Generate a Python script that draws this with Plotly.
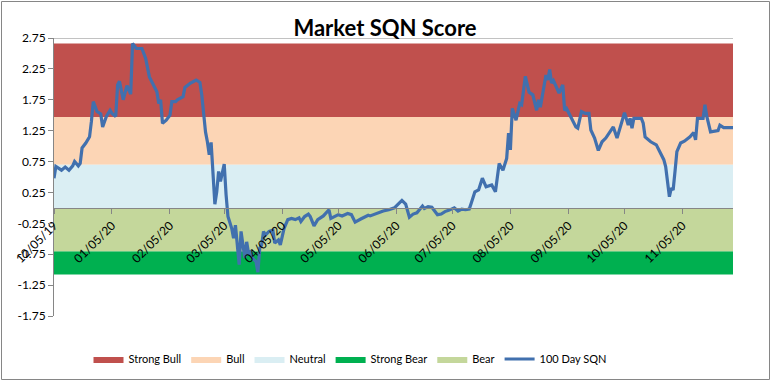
import plotly.graph_objects as go

# ---------------- data ----------------
dates = [
    "2019-12-05", "2019-12-06", "2019-12-09", "2019-12-11", "2019-12-13", "2019-12-15",
    "2019-12-16", "2019-12-18", "2019-12-19", "2019-12-20", "2019-12-22", "2019-12-24",
    "2019-12-25", "2019-12-26", "2019-12-28", "2019-12-30", "2019-12-31",
    "2020-01-02", "2020-01-04", "2020-01-05", "2020-01-07", "2020-01-08", "2020-01-09",
    "2020-01-11", "2020-01-13", "2020-01-15", "2020-01-16", "2020-01-18", "2020-01-21",
    "2020-01-23", "2020-01-25", "2020-01-27", "2020-01-29", "2020-01-30", "2020-01-31",
    "2020-02-01", "2020-02-03", "2020-02-05", "2020-02-06", "2020-02-08", "2020-02-09",
    "2020-02-12", "2020-02-13", "2020-02-16", "2020-02-19", "2020-02-21", "2020-02-22",
    "2020-02-23", "2020-02-24", "2020-02-25", "2020-02-26", "2020-02-27", "2020-02-28",
    "2020-02-29", "2020-03-01", "2020-03-02", "2020-03-03", "2020-03-05", "2020-03-06",
    "2020-03-07", "2020-03-09", "2020-03-10", "2020-03-11", "2020-03-12", "2020-03-13",
    "2020-03-14", "2020-03-15", "2020-03-16", "2020-03-17", "2020-03-18", "2020-03-19",
    "2020-03-20", "2020-03-22", "2020-03-23", "2020-03-24", "2020-03-25", "2020-03-26",
    "2020-03-27", "2020-03-29", "2020-03-31", "2020-04-01", "2020-04-03", "2020-04-04",
    "2020-04-06", "2020-04-08", "2020-04-10", "2020-04-12", "2020-04-14", "2020-04-15",
    "2020-04-17", "2020-04-19", "2020-04-20", "2020-04-22", "2020-04-24", "2020-04-27",
    "2020-04-30", "2020-05-01", "2020-05-03", "2020-05-05", "2020-05-07", "2020-05-10",
    "2020-05-12", "2020-05-14", "2020-05-17", "2020-05-19", "2020-05-21", "2020-05-22",
    "2020-05-25", "2020-05-29", "2020-06-01", "2020-06-04", "2020-06-06", "2020-06-08",
    "2020-06-10", "2020-06-12", "2020-06-14", "2020-06-16", "2020-06-19", "2020-06-20",
    "2020-06-22", "2020-06-24", "2020-06-25", "2020-06-27", "2020-06-29", "2020-07-01",
    "2020-07-03", "2020-07-06", "2020-07-08", "2020-07-10", "2020-07-12", "2020-07-14",
    "2020-07-15", "2020-07-17", "2020-07-19", "2020-07-21", "2020-07-23", "2020-07-26",
    "2020-07-28", "2020-07-29", "2020-07-30", "2020-08-01", "2020-08-03", "2020-08-04",
    "2020-08-05", "2020-08-06", "2020-08-08", "2020-08-10", "2020-08-11", "2020-08-13",
    "2020-08-15", "2020-08-17", "2020-08-19", "2020-08-20", "2020-08-21", "2020-08-24",
    "2020-08-25", "2020-08-26", "2020-08-27", "2020-08-28", "2020-08-31", "2020-09-02",
    "2020-09-03", "2020-09-04", "2020-09-06", "2020-09-09", "2020-09-10", "2020-09-12",
    "2020-09-14", "2020-09-16", "2020-09-17", "2020-09-19", "2020-09-21", "2020-09-23",
    "2020-09-25", "2020-09-29", "2020-10-01", "2020-10-05", "2020-10-07", "2020-10-08",
    "2020-10-09", "2020-10-10", "2020-10-14", "2020-10-15", "2020-10-16", "2020-10-19",
    "2020-10-22", "2020-10-24", "2020-10-26", "2020-10-27", "2020-10-28", "2020-10-29",
    "2020-10-30", "2020-10-31", "2020-11-01", "2020-11-02", "2020-11-04", "2020-11-06",
    "2020-11-09", "2020-11-11", "2020-11-12", "2020-11-13", "2020-11-16", "2020-11-17",
    "2020-11-18", "2020-11-20", "2020-11-24", "2020-11-25", "2020-11-27", "2020-12-02",
]

sqn = [
    0.48, 0.67, 0.61, 0.66, 0.61, 0.68,
    0.75, 0.68, 0.72, 0.97, 1.05, 1.15,
    1.40, 1.72, 1.56, 1.52, 1.31,
    1.48, 1.58, 1.53, 1.48, 1.99, 2.05,
    1.75, 1.98, 1.84, 2.66, 2.58, 2.58,
    2.42, 2.12, 1.99, 1.88, 1.69, 1.75,
    1.37, 1.42, 1.50, 1.72, 1.72, 1.75,
    1.80, 1.95, 2.02, 2.07, 2.03, 1.83,
    1.53, 1.23, 1.07, 0.86, 1.06, 0.53,
    0.06, 0.26, 0.59, 0.43, 0.71, 0.21,
    -0.14, -0.33, -0.49, -0.28, -0.65, -0.92,
    -0.38, -0.65, -0.81, -0.55, -0.73, -0.71,
    -0.81, -0.87, -1.04, -0.65, -0.60, -0.38,
    -0.44, -0.38, -0.36, -0.57, -0.52, -0.60,
    -0.33, -0.19, -0.17, -0.19, -0.16, -0.22,
    -0.14, -0.10, -0.14, -0.29, -0.19, -0.13,
    -0.03, -0.17, -0.14, -0.11, -0.13, -0.09,
    -0.11, -0.23, -0.18, -0.15, -0.12, -0.13,
    -0.09, -0.05, -0.03, 0.00, 0.06, 0.12,
    0.06, -0.15, -0.10, -0.08, 0.03, -0.01,
    0.02, 0.01, -0.03, -0.11, -0.10, -0.06,
    -0.04, 0.00, -0.05, -0.02, -0.03, -0.02,
    0.07, 0.26, 0.29, 0.48, 0.34, 0.37,
    0.26, 0.48, 0.72, 0.61, 0.80, 1.21,
    0.94, 1.61, 1.42, 1.69, 1.67, 2.13,
    1.87, 1.83, 1.58, 1.75, 1.63, 2.15,
    2.07, 2.24, 2.02, 2.06, 1.86, 1.99,
    1.58, 1.61, 1.48, 1.31, 1.29, 1.56,
    1.53, 1.53, 1.26, 1.13, 0.93, 1.07,
    1.13, 1.31, 1.13, 1.54, 1.34, 1.45,
    1.29, 1.45, 1.45, 1.37, 1.15, 1.07,
    1.02, 0.91, 0.78, 0.67, 0.43, 0.18,
    0.32, 0.29, 0.59, 0.91, 1.05, 1.08,
    1.15, 1.22, 1.10, 1.45, 1.45, 1.67,
    1.48, 1.23, 1.25, 1.34, 1.30, 1.30,
]

band_names = ["Strong Bull", "Bull", "Neutral", "Strong Bear", "Bear"]
band_top = [2.66, 1.47, 0.70, -0.70, 0.00]
band_bottom = [1.47, 0.70, 0.00, -1.08, -0.70]
band_colors = ["#C0504D", "#FCD5B5", "#DAEEF3", "#00B050", "#C4D79B"]

line_name = "100 Day SQN"

y_ticks = [2.75, 2.25, 1.75, 1.25, 0.75, 0.25, -0.25, -0.75, -1.25, -1.75]
x_tick_dates = ["2019-12-05", "2020-01-05", "2020-02-05", "2020-03-05", "2020-04-05",
                "2020-05-05", "2020-06-05", "2020-07-05", "2020-08-05", "2020-09-05",
                "2020-10-05", "2020-11-05"]
x_tick_labels = ["12/05/19", "01/05/20", "02/05/20", "03/05/20", "04/05/20", "05/05/20",
                 "06/05/20", "07/05/20", "08/05/20", "09/05/20", "10/05/20", "11/05/20"]

title_text = "Market SQN Score"

# ---------------- figure ----------------
FONT = "Lato, 'Open Sans', sans-serif"
GREY = "#868686"
y_min, y_max = -1.75, 2.75

fig = go.Figure()

x0, x1 = dates[0], dates[-1]
for name, top, bot, col in zip(band_names, band_top, band_bottom, band_colors):
    fig.add_trace(go.Scatter(
        x=[x0, x1, x1, x0, x0], y=[top, top, bot, bot, top],
        fill="toself", fillcolor=col, mode="lines",
        line=dict(width=0, color=col), name=name, hoverinfo="skip",
    ))

fig.add_trace(go.Scatter(
    x=dates, y=sqn, mode="lines", name=line_name,
    line=dict(color="#4170AE", width=3.2),
))

fig.update_layout(
    width=772, height=382,
    margin=dict(l=54, r=39, t=38, b=66),
    paper_bgcolor="white", plot_bgcolor="white",
    font=dict(family=FONT, size=12, color="#000000"),
    title=dict(text="<b>" + title_text + "</b>", x=385 / 772, xanchor="center",
               y=1 - 28 / 382, yanchor="middle",
               font=dict(family=FONT, size=22, color="#000000")),
    showlegend=True,
    legend=dict(orientation="h", xref="container", yref="container",
                x=350 / 772, xanchor="center", y=1 - 359 / 382, yanchor="middle",
                font=dict(family=FONT, size=11, color="#000000"),
                traceorder="normal", itemwidth=30, bgcolor="rgba(0,0,0,0)"),
    xaxis=dict(
        type="date", range=[x0, x1],
        anchor="free", position=(0 - y_min) / (y_max - y_min),
        showline=True, linecolor=GREY, linewidth=1,
        ticks="outside", ticklen=5, tickcolor=GREY,
        tickvals=x_tick_dates, ticktext=x_tick_labels, tickangle=-45,
        tickfont=dict(family=FONT, size=12, color="#000000"),
        showgrid=False, zeroline=False, automargin=False, layer="above traces",
    ),
    yaxis=dict(
        range=[y_min, y_max], domain=[0, 1],
        showline=True, linecolor=GREY, linewidth=1,
        ticks="outside", ticklen=5, tickcolor=GREY,
        tickvals=y_ticks, ticktext=[f"{v:.2f}" for v in y_ticks],
        tickfont=dict(family=FONT, size=12, color="#000000"),
        showgrid=False, zeroline=False, automargin=False,
    ),
    yaxis2=dict(
        range=[y_min, y_max], overlaying="y", side="right", anchor="x",
        showline=False, ticks="outside", ticklen=4, tickcolor=GREY,
        tickvals=y_ticks, showticklabels=False,
        showgrid=False, zeroline=False, automargin=False,
    ),
    shapes=[
        dict(type="line", xref="paper", yref="y", x0=0, x1=1, y0=y_max, y1=y_max,
             line=dict(color=GREY, width=1)),
        dict(type="rect", xref="paper", yref="paper",
             x0=(1.5 - 54) / 679, x1=(769.5 - 54) / 679,
             y0=(316 - 379.5) / 278, y1=(316 - 1.5) / 278,
             line=dict(color=GREY, width=1), fillcolor="rgba(0,0,0,0)", layer="below"),
    ],
)

fig.write_html(
    "out.html",
    config={"displayModeBar": False},
    post_script="document.body.style.margin='0';document.body.style.overflow='hidden';",
)
